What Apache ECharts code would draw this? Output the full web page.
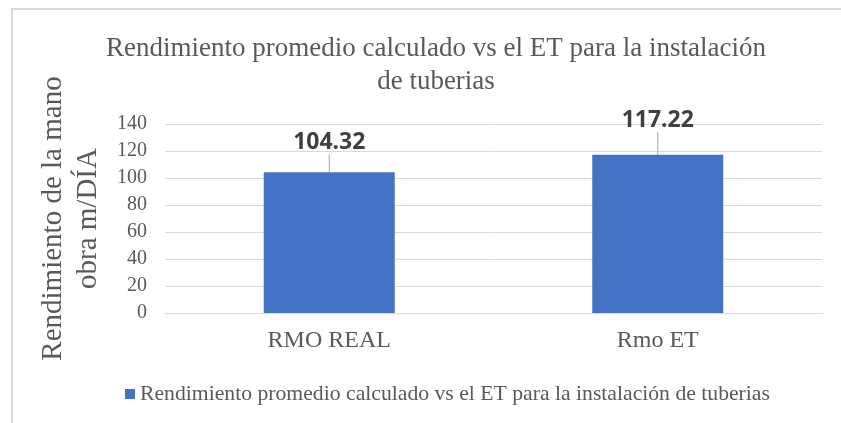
<!DOCTYPE html>
<html>
<head>
<meta charset="utf-8">
<script src="https://cdn.jsdelivr.net/npm/echarts@6/dist/echarts.min.js"></script>
<style>
  html, body { margin: 0; padding: 0; background: #fff; }
  #main { width: 841px; height: 423px; }
</style>
</head>
<body>
<div id="main"></div>
<script>
// datos del grafico
var categorias = ['RMO REAL', 'Rmo ET'];
var rendimiento = [104.32, 117.22];
var ejeY = { min: 0, max: 140, interval: 20 };
var titulo = 'Rendimiento promedio calculado vs el ET para la instalación\nde tuberias';
var nombreSerie = 'Rendimiento promedio calculado vs el ET para la instalación de tuberias';
var nombreEjeY = 'Rendimiento de la mano\nobra m/DÍA';
// desplazamiento de las etiquetas respecto a la barra (como en Excel)
var desplazaEtiqueta = [-13, -18];

var serif = '"Liberation Serif", "Times New Roman", serif';
var gris = '#595959';

var myChart = echarts.init(document.getElementById('main'));
myChart.setOption({
    animation: false,
    title: {
        text: titulo,
        left: 431,
        top: 27,
        textAlign: 'center',
        textStyle: {
            fontFamily: serif,
            fontWeight: 'normal',
            fontSize: 27,
            lineHeight: 33,
            color: gris
        }
    },
    graphic: [{
        type: 'polyline',
        shape: { points: [[12, 423], [12, 9], [841, 9]] },
        style: { stroke: '#d9d9d9', lineWidth: 2, fill: null },
        silent: true
    }],
    legend: {
        left: 120,
        top: 378,
        itemWidth: 10,
        itemHeight: 10,
        icon: 'rect',
        textStyle: { fontFamily: serif, fontSize: 21.7, color: gris },
        data: [nombreSerie]
    },
    grid: { left: 165, right: 19, top: 124, bottom: 110 },
    xAxis: {
        type: 'category',
        data: categorias,
        axisLine: { lineStyle: { color: '#d9d9d9', width: 1 } },
        axisTick: { show: false },
        axisLabel: { fontFamily: serif, fontSize: 24, color: gris, margin: 16 }
    },
    yAxis: {
        type: 'value',
        min: ejeY.min,
        max: ejeY.max,
        interval: ejeY.interval,
        name: nombreEjeY,
        nameLocation: 'middle',
        nameRotate: 90,
        nameGap: 57,
        nameTextStyle: { fontFamily: serif, fontSize: 29, lineHeight: 35, color: gris },
        axisLine: { show: false },
        axisTick: { show: false },
        axisLabel: { fontFamily: serif, fontSize: 20, color: gris, margin: 18 },
        splitLine: { lineStyle: { color: '#d9d9d9', width: 1 } }
    },
    series: [{
        name: nombreSerie,
        type: 'bar',
        data: rendimiento,
        barWidth: 131,
        itemStyle: { color: '#4472C4' },
        label: {
            show: true,
            position: 'top',
            distance: 5,
            fontFamily: 'Noto Sans',
            fontWeight: 'bold',
            fontSize: 23,
            color: '#404040',
            formatter: function (p) { return p.value.toFixed(2); }
        },
        labelLayout: function (params) {
            return { dy: desplazaEtiqueta[params.dataIndex] };
        },
        labelLine: { show: true, lineStyle: { color: '#a6a6a6', width: 1 } }
    }]
});
</script>
</body>
</html>
